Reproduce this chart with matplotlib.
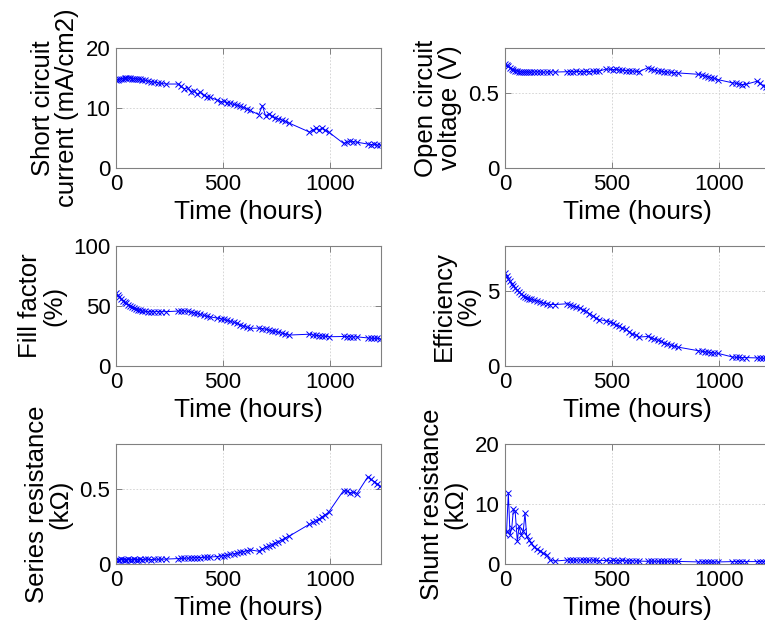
import numpy as np
import matplotlib.pyplot as plt

plt.rcParams['font.family'] = ['Liberation Sans', 'DejaVu Sans']

# measurement times (hours), taken in bursts
time_h = [0, 8, 16, 24, 32, 40, 48, 58, 66, 76, 86, 94, 102, 112, 122, 135, 150, 165, 180, 197, 212, 236,
          290, 305, 320, 335, 350, 365, 380, 395, 410, 425, 440,
          475, 490, 505, 520, 535, 550, 565, 580, 595, 612, 628,
          668, 685, 700, 715, 730, 745, 760, 775, 790, 810,
          905, 920, 935, 950, 965, 980, 995,
          1065, 1080, 1095, 1110, 1128,
          1178, 1193, 1208, 1222, 1236]

jsc = [14.6, 14.7, 14.8, 14.9, 14.9, 15.0, 15.0, 15.0, 15.0, 14.9, 14.9, 14.9, 14.8, 14.8, 14.7, 14.6, 14.5, 14.4, 14.3, 14.2, 14.1, 14.0,
       14.0, 13.6, 13.2, 13.4, 12.7, 12.9, 12.3, 12.6, 12.1, 11.9, 11.8,
       11.3, 11.0, 11.2, 10.9, 10.8, 10.6, 10.5, 10.3, 10.1, 9.9, 9.6,
       8.9, 10.4, 8.7, 9.0, 8.6, 8.4, 8.2, 8.0, 7.8, 7.5,
       6.0, 6.3, 6.6, 6.4, 6.6, 6.3, 6.0,
       4.1, 4.3, 4.5, 4.4, 4.3,
       4.0, 3.9, 4.0, 3.8, 3.9]

voc = [0.695, 0.688, 0.678, 0.668, 0.660, 0.655, 0.650, 0.646, 0.643, 0.641, 0.640, 0.640, 0.641, 0.640, 0.639, 0.640, 0.641, 0.640, 0.639, 0.640, 0.641, 0.640,
       0.642, 0.643, 0.642, 0.644, 0.643, 0.642, 0.644, 0.643, 0.645, 0.644, 0.646,
       0.660, 0.658, 0.656, 0.657, 0.654, 0.652, 0.650, 0.648, 0.646, 0.645, 0.643,
       0.668, 0.660, 0.652, 0.648, 0.645, 0.642, 0.640, 0.638, 0.636, 0.634,
       0.625, 0.620, 0.615, 0.610, 0.603, 0.597, 0.590,
       0.568, 0.565, 0.560, 0.556, 0.558,
       0.578, 0.565, 0.550, 0.540, 0.530]

ff = [60.5, 59.0, 57.5, 55.8, 54.5, 53.2, 52.2, 51.0, 50.0, 48.8, 48.0, 47.5, 47.0, 46.5, 46.0, 45.5, 45.3, 45.3, 45.2, 45.4, 45.3, 45.3,
      45.8, 45.9, 46.0, 45.5, 45.0, 44.5, 43.9, 43.0, 42.2, 41.5, 41.0,
      39.9, 39.5, 38.8, 38.0, 37.2, 36.5, 35.5, 34.5, 33.5, 32.3, 31.4,
      31.6, 31.2, 30.6, 30.0, 29.4, 28.8, 28.2, 27.5, 26.8, 25.8,
      26.5, 26.0, 25.5, 25.3, 25.0, 24.7, 24.4,
      24.6, 24.4, 24.4, 24.2, 24.3,
      23.4, 23.2, 23.0, 23.1, 22.9]

eff = [6.23, 6.00, 5.80, 5.65, 5.50, 5.35, 5.20, 5.05, 4.95, 4.80, 4.70, 4.60, 4.55, 4.50, 4.45, 4.40, 4.35, 4.30, 4.20, 4.15, 4.10, 4.10,
       4.15, 4.10, 4.00, 3.95, 3.85, 3.75, 3.65, 3.50, 3.35, 3.20, 3.10,
       3.00, 2.95, 2.85, 2.75, 2.65, 2.55, 2.45, 2.30, 2.15, 2.05, 1.93,
       1.97, 1.90, 1.80, 1.72, 1.64, 1.55, 1.47, 1.40, 1.33, 1.26,
       1.02, 0.98, 0.95, 0.92, 0.90, 0.87, 0.85,
       0.60, 0.58, 0.57, 0.56, 0.56,
       0.54, 0.53, 0.52, 0.51, 0.50]

rs = [0.028, 0.030, 0.029, 0.031, 0.030, 0.029, 0.030, 0.031, 0.030, 0.029, 0.031, 0.030, 0.030, 0.031, 0.030, 0.032, 0.031, 0.030, 0.032, 0.031, 0.032, 0.033,
      0.036, 0.037, 0.038, 0.039, 0.040, 0.041, 0.042, 0.043, 0.044, 0.045, 0.046,
      0.050, 0.053, 0.056, 0.060, 0.064, 0.068, 0.072, 0.077, 0.082, 0.088, 0.094,
      0.085, 0.100, 0.112, 0.120, 0.130, 0.140, 0.150, 0.160, 0.172, 0.185,
      0.265, 0.280, 0.290, 0.300, 0.315, 0.330, 0.345,
      0.490, 0.485, 0.475, 0.480, 0.470,
      0.580, 0.565, 0.550, 0.535, 0.520]

rsh = [5.0, 5.5, 11.9, 4.9, 6.0, 9.1, 8.8, 3.8, 6.3, 4.9, 5.5, 8.5, 4.6, 4.0, 3.5, 2.9, 2.5, 2.2, 1.8, 1.45, 0.6, 0.5,
       0.65, 0.70, 0.60, 0.68, 0.62, 0.70, 0.65, 0.60, 0.67, 0.60, 0.55,
       0.60, 0.55, 0.62, 0.58, 0.55, 0.60, 0.52, 0.50, 0.55, 0.50, 0.48,
       0.45, 0.47, 0.44, 0.45, 0.43, 0.46, 0.44, 0.42, 0.45, 0.43,
       0.35, 0.36, 0.34, 0.35, 0.33, 0.35, 0.34,
       0.40, 0.39, 0.41, 0.40, 0.40,
       0.40, 0.41, 0.39, 0.40, 0.40]

panels = [
    (jsc, 'Short circuit\ncurrent (mA/cm2)', (0, 20), [0, 10, 20]),
    (voc, 'Open circuit\nvoltage (V)', (0, 0.8), [0, 0.5]),
    (ff, 'Fill factor\n(%)', (0, 100), [0, 50, 100]),
    (eff, 'Efficiency\n(%)', (0, 8), [0, 5]),
    (rs, 'Series resistance\n(kΩ)', (0, 0.8), [0, 0.5]),
    (rsh, 'Shunt resistance\n(kΩ)', (0, 20), [0, 10, 20]),
]

fig = plt.figure(figsize=(7.65, 6.23), dpi=100)
lefts = [0.1516, 0.660]
bottoms = [0.7303, 0.4125, 0.0947]
w, h = 0.3464, 0.1926

for i, (vals, label, ylim, yticks) in enumerate(panels):
    ax = fig.add_axes([lefts[i % 2], bottoms[i // 2], w, h])
    ax.plot(time_h, vals, color='#0000ff', lw=0.7, marker='x', ms=5, mew=0.7)
    ax.set_xlim(0, 1240)
    ax.set_ylim(*ylim)
    ax.set_xticks([0, 500, 1000])
    ax.set_yticks(yticks)
    ax.set_yticklabels([('%g' % v) for v in yticks])
    ax.grid(True, ls=(0, (2, 2)), color='#d0d0d0', lw=0.6)
    ax.tick_params(direction='in', length=4, width=0.7, color='#808080',
                   labelsize=16, pad=4, top=True, right=True)
    for s in ax.spines.values():
        s.set_color('#808080')
        s.set_linewidth(0.8)
    ax.set_xlabel('Time (hours)', fontsize=19, labelpad=4)
    ax.set_ylabel(label, fontsize=18.5, linespacing=1.0, labelpad=5)

fig.savefig('out.png', dpi=100)
